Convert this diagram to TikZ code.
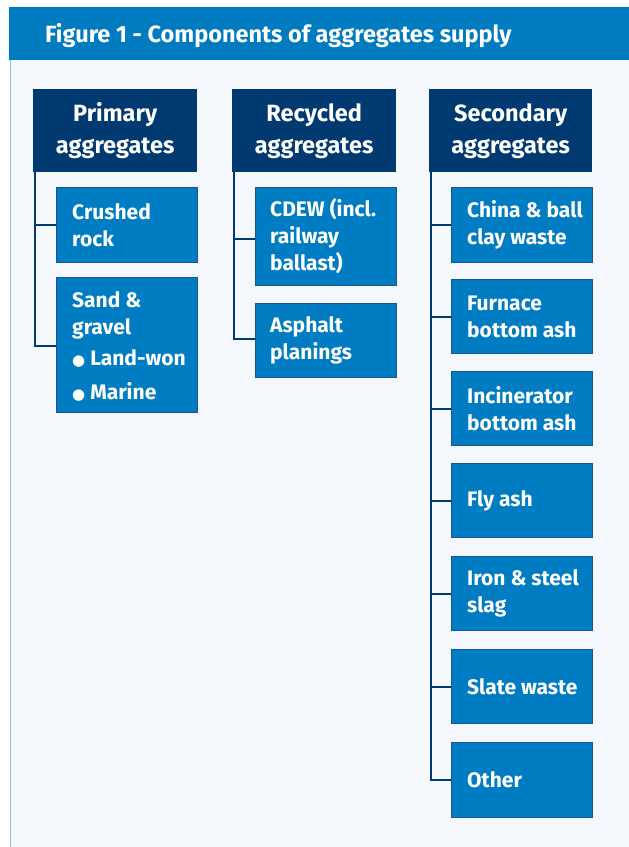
\documentclass[tikz,border=0pt]{standalone}
\usepackage{fontspec}
\setmainfont{Fira Sans}
\newfontfamily\dejavu{DejaVu Sans}
\definecolor{barblue}{RGB}{0,123,192}
\definecolor{navy}{RGB}{0,58,112}
\definecolor{midblue}{RGB}{0,124,194}
\definecolor{edgeblue}{RGB}{26,84,148}
\definecolor{panel}{RGB}{244,247,251}
\definecolor{panelline}{RGB}{150,190,222}
\newcommand{\bul}{{\dejavu\fontsize{15}{15}\selectfont ●}\hspace{5pt}}
\begin{document}
\begin{tikzpicture}[x=1pt,y=-1pt,
  hdr/.style={fill=navy, text=white, font=\bfseries\fontsize{23.5}{32}\selectfont, align=center, anchor=north west, minimum width=164pt, minimum height=83pt, inner sep=0pt},
  itembox/.style={fill=midblue, draw=edgeblue, line width=1.2pt, anchor=north west, minimum width=141pt, inner sep=0pt},
  itemtext/.style={text=white, font=\bfseries\fontsize{21}{27}\selectfont, align=left, anchor=west, inner sep=0pt},
  conn/.style={draw=navy, line width=2pt}
]
\useasboundingbox (0,0) rectangle (629,847);
\fill[white] (0,0) rectangle (629,847);
\fill[panel] (10,60) rectangle (629,847);
\draw[panelline, line width=1pt] (10.5,60) -- (10.5,847);
\fill[barblue] (9,7) rectangle (629,60);
\node[anchor=base west, text=white, font=\bfseries\fontsize{23.5}{26}\selectfont, inner sep=0pt] (title) at (45,42) {Figure 1 - Components of aggregates supply};

% header boxes
\node[hdr] (prim) at (33,89) {Primary\\aggregates};
\node[hdr] (recy) at (232,89) {Recycled\\aggregates};
\node[hdr, minimum width=163pt] (seco) at (429,89) {Secondary\\aggregates};

% primary
\node[itembox, minimum height=75pt] (crush) at (56,187) {};
\node[itemtext] (crusht) at ([xshift=16pt]crush.west) {Crushed\\rock};
\node[itembox, minimum height=135pt] (sand) at (56,277) {};
\node[itemtext] (sandt) at ([xshift=16pt,yshift=-1pt]sand.west) {Sand \&\\gravel\\[4pt]\bul Land-won\\[7pt]\bul Marine};

% recycled
\node[itembox, minimum height=98pt] (cdew) at (255,187) {};
\node[itemtext] (cdewt) at ([xshift=15pt]cdew.west) {CDEW (incl.\\railway\\ballast)};
\node[itembox, minimum height=74pt] (asph) at (255,303) {};
\node[itemtext] (aspht) at ([xshift=15pt]asph.west) {Asphalt\\planings};

% secondary
\node[itembox, minimum height=75pt] (china) at (451,187) {};
\node[itemtext] (chinat) at ([xshift=16pt]china.west) {China \& ball\\clay waste};
\node[itembox, minimum height=74pt] (furn) at (451,279) {};
\node[itemtext] (furnt) at ([xshift=16pt]furn.west) {Furnace\\bottom ash};
\node[itembox, minimum height=74pt] (inci) at (451,371) {};
\node[itemtext] (incit) at ([xshift=16pt]inci.west) {Incinerator\\bottom ash};
\node[itembox, minimum height=74pt] (fly) at (451,463) {};
\node[itemtext] (flyt) at ([xshift=16pt]fly.west) {Fly ash};
\node[itembox, minimum height=74pt] (iron) at (451,556) {};
\node[itemtext] (iront) at ([xshift=16pt]iron.west) {Iron \& steel\\slag};
\node[itembox, minimum height=74pt] (slate) at (451,649) {};
\node[itemtext] (slatet) at ([xshift=16pt]slate.west) {Slate waste};
\node[itembox, minimum height=75pt] (other) at (451,742) {};
\node[itemtext] (othert) at ([xshift=16pt]other.west) {Other};

% connectors
\draw[conn] ([xshift=1.5pt]prim.south west) |- ([yshift=-0.5pt]sand.west);
\draw[conn] ([xshift=1.5pt]prim.south west) |- (crush.west);
\draw[conn] ([xshift=1.5pt]recy.south west) |- ([yshift=2pt]asph.west);
\draw[conn] ([xshift=1.5pt]recy.south west) |- ([yshift=-2pt]cdew.west);
\draw[conn] ([xshift=1.5pt]seco.south west) |- (other.west);
\foreach \n in {china,furn,inci,fly,iron,slate}
  \draw[conn] ([xshift=1.5pt]seco.south west) |- (\n.west);
\end{tikzpicture}
\end{document}
